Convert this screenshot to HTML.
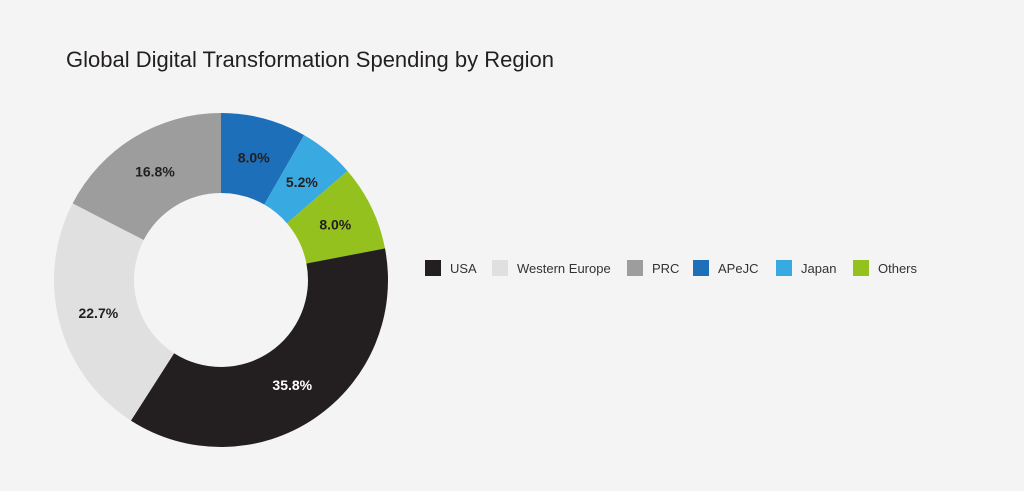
<!DOCTYPE html>
<html><head><meta charset="utf-8"><style>
body{margin:0;background:#f3f4f3;font-family:"Liberation Sans",sans-serif;}
#wrap{position:relative;width:1024px;height:491px;overflow:hidden;background:#f3f4f3;}
</style></head><body>
<div id="wrap">
<svg id="svg" width="1024" height="491">
<text x="66" y="67" font-size="22" fill="#231f20">Global Digital Transformation Spending by Region</text>
</svg>
</div>
<script>
const categories=["APeJC","Japan","Others","USA","Western Europe","PRC"];
const values=[8.0,5.2,8.0,35.8,22.7,16.8];
const colors=["#1e6fba","#39a9e1","#95c11f","#231f20","#e0e0e0","#9d9d9d"];
const labelColors=["#231f20","#231f20","#231f20","#ffffff","#231f20","#231f20"];
const legendOrder=["USA","Western Europe","PRC","APeJC","Japan","Others"];
const legendX=[425,492,627,693,776,853];
const NS="http://www.w3.org/2000/svg";
const svg=document.getElementById("svg");
const cx=221,cy=280,R=167,r=87;
const total=values.reduce((a,b)=>a+b,0);
function pt(a,rad){return [cx+rad*Math.sin(a),cy-rad*Math.cos(a)];}
let acc=0;
values.forEach((v,i)=>{
  const a0=acc/total*2*Math.PI; acc+=v; const a1=acc/total*2*Math.PI;
  const large=(a1-a0)>Math.PI?1:0;
  const p1=pt(a0,R),p2=pt(a1,R),p3=pt(a1,r),p4=pt(a0,r);
  const p=document.createElementNS(NS,"path");
  p.setAttribute("d",`M${p1}L${p1}A${R},${R} 0 ${large} 1 ${p2}L${p3}A${r},${r} 0 ${large} 0 ${p4}Z`);
  p.setAttribute("fill",colors[i]);
  
  
  svg.appendChild(p);
  const m=pt((a0+a1)/2,(R+r)/2);
  const t=document.createElementNS(NS,"text");
  t.setAttribute("x",m[0]);t.setAttribute("y",m[1]+5);
  t.setAttribute("text-anchor","middle");t.setAttribute("font-size","14");t.setAttribute("font-weight","bold");
  t.setAttribute("fill",labelColors[i]);
  t.textContent=v.toFixed(1)+"%";
  
  
  svg.appendChild(t);
});
legendOrder.forEach((c,j)=>{
  const i=categories.indexOf(c);
  const g=document.createElementNS(NS,"g");
  
  
  const s=document.createElementNS(NS,"rect");
  s.setAttribute("x",legendX[j]);s.setAttribute("y",260);s.setAttribute("width",16);s.setAttribute("height",16);
  s.setAttribute("fill",colors[i]);
  
  
  g.appendChild(s);
  const t=document.createElementNS(NS,"text");
  t.setAttribute("x",legendX[j]+25);t.setAttribute("y",273);t.setAttribute("font-size","13");t.setAttribute("fill","#333");
  t.textContent=c;
  
  
  g.appendChild(t);
  svg.appendChild(g);
});
</script>
</body></html>
